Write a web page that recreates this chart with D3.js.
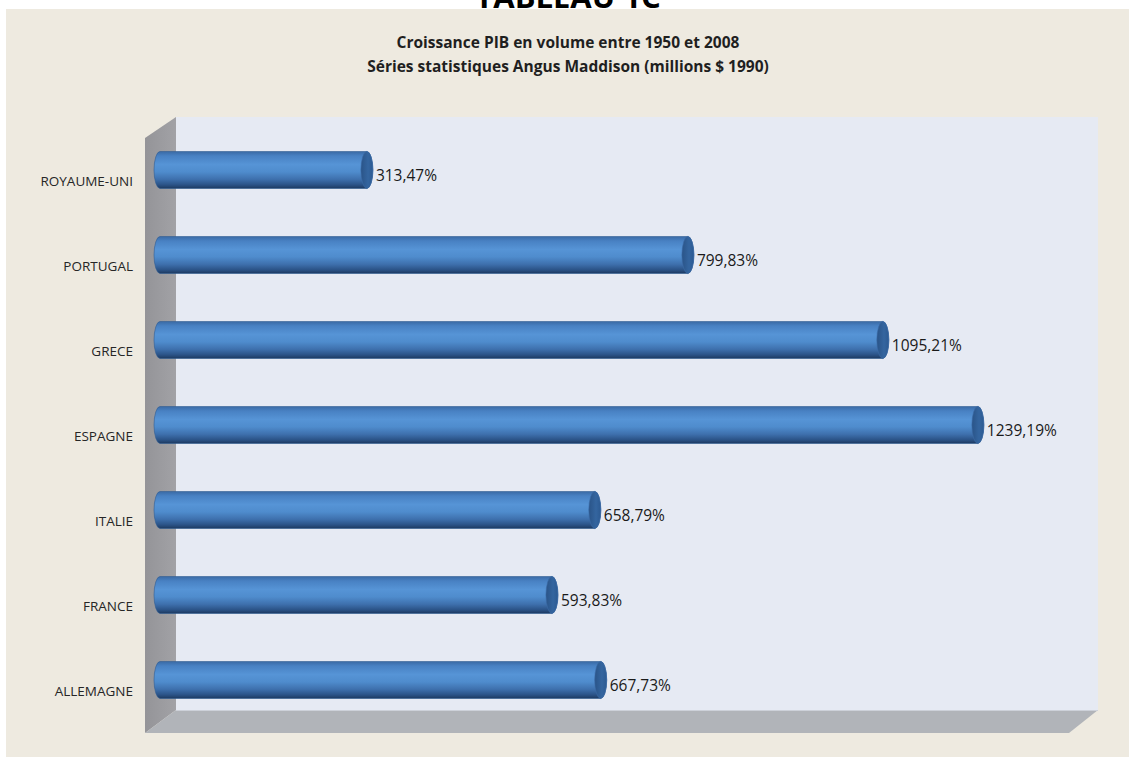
<!DOCTYPE html>
<html>
<head>
<meta charset="utf-8">
<script src="https://cdn.jsdelivr.net/npm/d3@7"></script>
<style>
  html, body { margin: 0; padding: 0; background: #ffffff; }
  svg { display: block; }
</style>
</head>
<body>
<svg id="chart" width="1129" height="757"></svg>
<script>
// GDP growth in volume, 1950–2008 (Maddison series), in percent
const countries = ["ROYAUME-UNI", "PORTUGAL", "GRECE", "ESPAGNE", "ITALIE", "FRANCE", "ALLEMAGNE"];
const growth = [313.47, 799.83, 1095.21, 1239.19, 658.79, 593.83, 667.73];
const valueLabels = ["313,47%", "799,83%", "1095,21%", "1239,19%", "658,79%", "593,83%", "667,73%"];
const titleLines = ["Croissance PIB en volume entre 1950  et 2008", "Séries statistiques Angus Maddison (millions $ 1990)"];
const heading = "TABLEAU 1C";

const data = countries.map((c, i) => ({ country: c, value: growth[i], label: valueLabels[i] }));

const svg = d3.select("#chart");
const W = 1129, H = 757;

// Page heading (partly hidden at the top edge)
svg.append("text")
  .attr("x", 568).attr("y", 8)
  .attr("text-anchor", "middle")
  .attr("font-family", "'Open Sans', 'DejaVu Sans', sans-serif")
  .attr("font-weight", "bold")
  .attr("font-size", 31)
  .attr("fill", "#000")
  .text(heading);

// Chart area background
svg.append("rect")
  .attr("x", 6).attr("y", 9).attr("width", W - 6).attr("height", H - 9)
  .attr("fill", "#EEEAE0");

// Title
const title = svg.append("text")
  .attr("text-anchor", "middle")
  .attr("font-family", "'Open Sans', 'Liberation Sans', sans-serif")
  .attr("font-weight", "bold")
  .attr("font-size", 15.5)
  .attr("fill", "#1f1f1f");
titleLines.forEach((t, i) => {
  title.append("tspan").attr("x", 568).attr("y", 48 + i * 24).text(t);
});

// Scales
const x = d3.scaleLinear().domain([0, 1400]).range([160, 160 + 1400 * 0.66]);
const y = d3.scaleBand().domain(countries)
  .range([127.5, 722.5])
  .paddingInner(0.565).paddingOuter(0.2825);

// 3D frame: back wall, side wall, floor
const wall = { x0: 176, x1: 1098, y0: 117, y1: 710 };
const depth = { dx: -31, dy: 23 };

const defs = svg.append("defs");

const sideGrad = defs.append("linearGradient").attr("id", "sideGrad")
  .attr("x1", 0).attr("y1", 0).attr("x2", 1).attr("y2", 0);
sideGrad.append("stop").attr("offset", 0).attr("stop-color", "#949498");
sideGrad.append("stop").attr("offset", 1).attr("stop-color", "#a2a2a6");

svg.append("rect")
  .attr("x", wall.x0).attr("y", wall.y0)
  .attr("width", wall.x1 - wall.x0).attr("height", wall.y1 - wall.y0)
  .attr("fill", "#E6EAF3");

svg.append("path")
  .attr("d", `M${wall.x0},${wall.y0} L${wall.x0 + depth.dx},${wall.y0 + 21} L${wall.x0 + depth.dx},${wall.y1 + depth.dy} L${wall.x0},${wall.y1} Z`)
  .attr("fill", "url(#sideGrad)");

svg.append("path")
  .attr("d", `M${wall.x0},${wall.y1} L${wall.x1},${wall.y1} L${wall.x1 - 29},${wall.y1 + depth.dy} L${wall.x0 + depth.dx},${wall.y1 + depth.dy} Z`)
  .attr("fill", "#B1B4B9");
svg.append("line")
  .attr("x1", wall.x0).attr("x2", wall.x1).attr("y1", wall.y1 + 0.5).attr("y2", wall.y1 + 0.5)
  .attr("stroke", "#cdd1d9").attr("stroke-width", 1);

// Cylinder shading
const bodyGrad = defs.append("linearGradient").attr("id", "bodyGrad")
  .attr("x1", 0).attr("y1", 0).attr("x2", 0).attr("y2", 1);
[[0, "#3a6aa5"], [0.12, "#4881c3"], [0.35, "#5694d6"], [0.55, "#4f8ccd"],
 [0.75, "#3e70ad"], [0.9, "#2b5387"], [1, "#1d3a60"]].forEach(([o, c]) =>
  bodyGrad.append("stop").attr("offset", o).attr("stop-color", c));

const capGrad = defs.append("linearGradient").attr("id", "capGrad")
  .attr("x1", 0).attr("y1", 0).attr("x2", 1).attr("y2", 0);
capGrad.append("stop").attr("offset", 0).attr("stop-color", "#2a5488");
capGrad.append("stop").attr("offset", 0.6).attr("stop-color", "#34659f");
capGrad.append("stop").attr("offset", 1).attr("stop-color", "#2c5a92");

const rx = 6;
const bars = svg.append("g").selectAll("g").data(data).join("g");

bars.append("path")
  .attr("d", d => {
    const x0 = x(0), x1 = x(d.value);
    const top = y(d.country), h = y.bandwidth(), ry = h / 2, bot = top + h;
    return `M${x0},${top} L${x1},${top} A${rx},${ry} 0 0 1 ${x1},${bot} L${x0},${bot} A${rx},${ry} 0 0 1 ${x0},${top} Z`;
  })
  .attr("fill", "url(#bodyGrad)")
  .attr("stroke", "#2f5c93").attr("stroke-width", 0.6);

bars.append("ellipse")
  .attr("cx", d => x(d.value))
  .attr("cy", d => y(d.country) + y.bandwidth() / 2)
  .attr("rx", rx).attr("ry", y.bandwidth() / 2)
  .attr("fill", "url(#capGrad)")
  .attr("stroke", "#3a6aa5").attr("stroke-width", 0.6);

// Value labels
bars.append("text")
  .attr("x", d => x(d.value) + rx + 3)
  .attr("y", d => y(d.country) + y.bandwidth() / 2 + 11)
  .attr("font-family", "'Open Sans', 'Liberation Sans', sans-serif")
  .attr("font-size", 15.5)
  .attr("fill", "#1a1a1a")
  .text(d => d.label);

// Category labels
svg.append("g").selectAll("text").data(countries).join("text")
  .attr("x", 133)
  .attr("y", d => y(d) + y.bandwidth() / 2 + 16)
  .attr("text-anchor", "end")
  .attr("font-family", "'Open Sans', 'Liberation Sans', sans-serif")
  .attr("font-size", 13.5)
  .attr("fill", "#262626")
  .text(d => d);
</script>
</body>
</html>
